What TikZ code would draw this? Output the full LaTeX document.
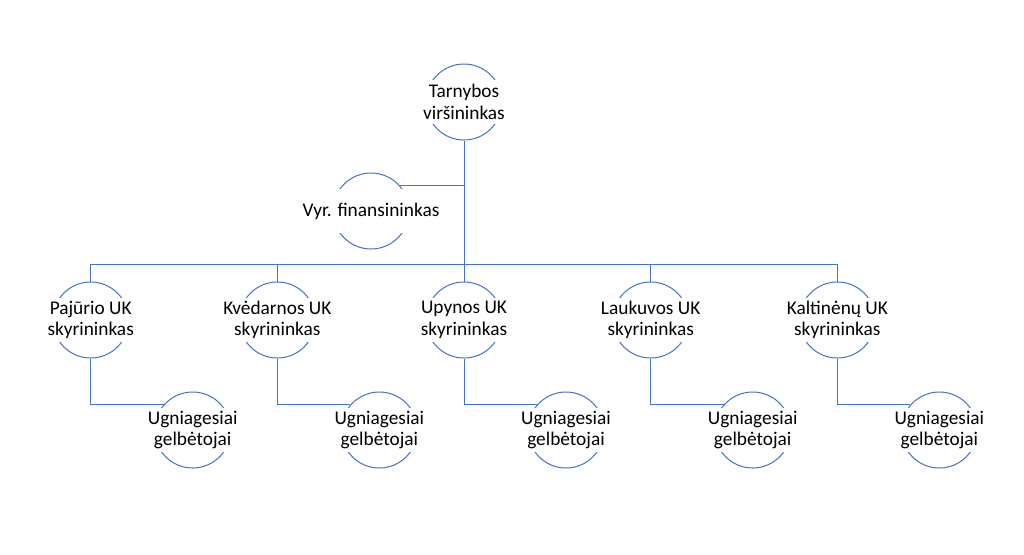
\documentclass[tikz,border=0pt]{standalone}
\usepackage{fontspec}
\setmainfont{Carlito}
\usetikzlibrary{positioning}
\definecolor{orgline}{HTML}{4472C4}
\tikzset{
    member/.style = {circle, draw=orgline, line width=0.75pt, minimum size=57pt, inner sep=0pt},
    memberlabel/.style = {fill=white, align=center, inner sep=1pt, minimum height=33pt, text=black, font=\fontsize{14.5}{16}\selectfont},
    conn/.style = {draw=orgline, line width=0.75pt}
}

\begin{document}
\begin{tikzpicture}[x=0.75pt, y=-0.75pt, on grid]
\useasboundingbox (0,0) rectangle (1024,554);

% Head and assistant
\node (virsininkas) [member, label={[memberlabel]center:Tarnybos\\viršininkas}] at (464,102) {};
\node (finansininkas) [member, label={[memberlabel]center:Vyr. finansininkas}, below left=81.75pt and 69.75pt of virsininkas] {};

% Unit heads
\node (upynos) [member, label={[memberlabel]center:Upynos UK\\skyrininkas}, below=163.5pt of virsininkas] {};
\node (kvedarnos) [member, label={[memberlabel]center:Kvėdarnos UK\\skyrininkas}, left=140pt of upynos] {};
\node (pajurio) [member, label={[memberlabel]center:Pajūrio UK\\skyrininkas}, left=140pt of kvedarnos] {};
\node (laukuvos) [member, label={[memberlabel]center:Laukuvos UK\\skyrininkas}, right=140pt of upynos] {};
\node (kaltinenu) [member, label={[memberlabel]center:Kaltinėnų UK\\skyrininkas}, right=140pt of laukuvos] {};

% Firefighters under each unit
\foreach \s in {pajurio, kvedarnos, upynos, laukuvos, kaltinenu}
    \node (\s-ug) [member, label={[memberlabel]center:Ugniagesiai\\gelbėtojai}, below right=82.5pt and 76.5pt of \s] {};

% Connections
\coordinate (bus) at ([yshift=12.75pt]upynos.north);
\draw [conn] (virsininkas) -- (bus);
\draw [conn] (finansininkas.41) -- (finansininkas.41 -| bus);
\foreach \s in {pajurio, kvedarnos, upynos, laukuvos, kaltinenu} {
    \draw [conn] (bus) -| (\s);
    \draw [conn] (\s) |- (\s-ug.139);
}

\end{tikzpicture}
\end{document}
